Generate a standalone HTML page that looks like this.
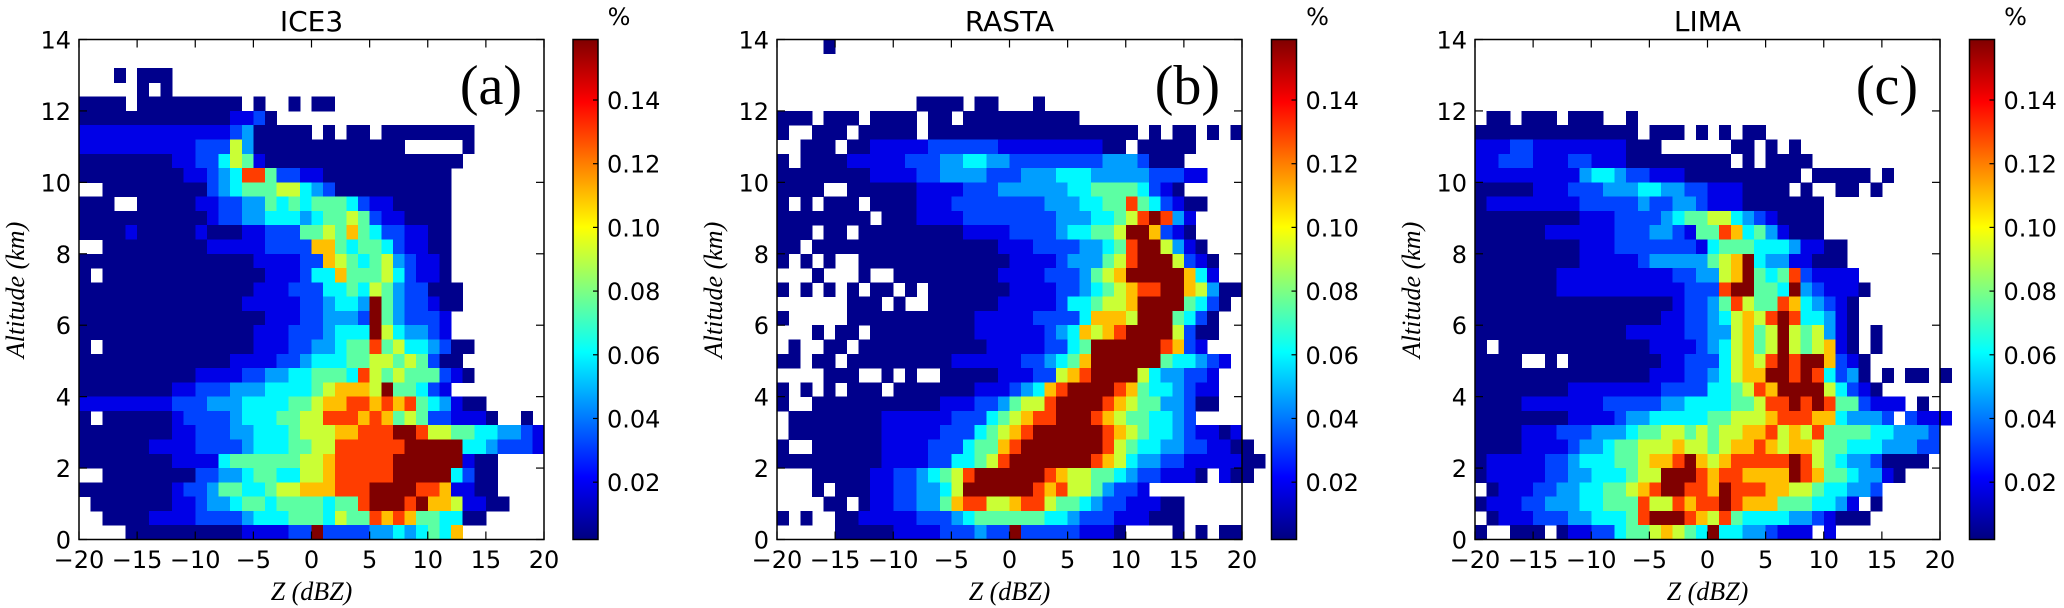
<!DOCTYPE html>
<html><head><meta charset="utf-8">
<style>
html,body{margin:0;padding:0;background:#fff;}
svg{display:block;}
.tk{font-family:"DejaVu Sans","Liberation Sans",sans-serif;font-size:24px;fill:#000;}
.tt{font-family:"DejaVu Sans","Liberation Sans",sans-serif;font-size:28px;fill:#000;}
.al{font-family:"Liberation Serif","DejaVu Serif",serif;font-style:italic;font-size:26px;fill:#000;}
.pl{font-family:"Liberation Serif","DejaVu Serif",serif;font-size:56px;fill:#000;}
</style></head>
<body>
<svg id="fig" width="2064" height="608" viewBox="0 0 2064 608" xmlns="http://www.w3.org/2000/svg">
<defs id="defs"></defs>
</svg>
<script>
// ---------- data ----------
const panelTitles = ["ICE3", "RASTA", "LIMA"];
const panelLetters = ["(a)", "(b)", "(c)"];
const xTicks = [-20, -15, -10, -5, 0, 5, 10, 15, 20];
const xTickLabels = ["\u221220", "\u221215", "\u221210", "\u22125", "0", "5", "10", "15", "20"];
const yTicks = [0, 2, 4, 6, 8, 10, 12, 14];
const cbTicks = [0.02, 0.04, 0.06, 0.08, 0.10, 0.12, 0.14];
const cbTickLabels = ["0.02", "0.04", "0.06", "0.08", "0.10", "0.12", "0.14"];
// frequency levels (%) encoded by digits 0-9 in grids; '.' = no data
const levelValues = [0.004, 0.018, 0.032, 0.046, 0.060, 0.075, 0.092, 0.110, 0.130, 0.160];
// rows from top (13.6-14 km) to bottom (0-0.4 km); columns -20..19 dBZ
const gridICE3 = [
"", "", "...0.000", ".....0.0",
"0000.000000000.0..0.00",
"00000000000001120",
"11111111111112300000.0.00.00000000",
"1111111111222630000000000000.....0",
"000000001122465100000000000000000",
"00000000011234885221100000000000",
"..000000000234555664320000000000",
"000..000001122335454555421100000",
"00000000000122334443455652110000",
"00001000001000112225565754221100",
"..000000000111112222775455421100",
"00000000000000011112276545632110",
"0.000000000000001112447555642110",
"000000000000000111222445465322000",
"000000000000001111122344395322100",
"00000000000000001112233329532221",
"00000000000000011122234449643321",
"0.00000000000001112233455856443200",
"000000000000011112234445566565200",
"0000000000111122334455548656555210",
"00000000112223334444567776955421",
"11111111222333444455677887878543100",
"0.0000001222234445566888787565221110..0",
"0000000011222334445666778889986655443321",
"0000001111222234445566888888999994432221",
"000000001111455555566788888999999100",
"..0000000022334554466788888999994200",
"000000001223554456677788899998871100",
".000000011233455455554558999897761100",
"..000011112222344455546558787554400",
"....00000000001111229222233434547"
];
const gridRASTA = [
"....0", "", "", "",
"............0000.00...0",
"000.000.0000.00.0000000000",
"0..000.00000.000000000000000000.0.00.0.0",
"..000.001111122222211111111100.00000",
"0.000011111222334433222222223332000",
"0000000011112233332223334443333322211",
"0000..00000011112223333334455554210",
"0.0.000.00001112222222233344558542100",
"00000000.000111122222222333445689831",
"000.00.00000000011112222344556997210",
"00.0000000000000000111222233458996310",
"0.0.0..0000000000000111123335689996210",
"...0...0..0000000001111222356799999741",
"0.0.0.0.00.0.000000011112234567889976300",
"......000.0..00000011111244566799995420",
"0.....00000000000111112222477769995420",
"...0.00.000000000111111234767899996200",
".0..00.000000000001111122459999998721",
"00.00.000000000111111223457999999544321",
"....000..0.0..000001112267899996433221",
"0.0.0.000.0000000111234789999875443211",
"0..00000000000111223566899998765533200",
".00000000111111222456788999876554432",
".000000001111122245678999999876544321101",
"0..00000011112224557899999998654433221100",
"000000000111122445689999999876433221111100",
"...0000011223456899999987665543221110.100",
"...0.000112233469999998786653221",
"....00.0112233578866788655432211100",
"0.0..001111122234555555443222111000",
".....0000011112223229222221110....0.0.00"
];
const gridLIMA = [
"", "", "", "", "",
".00.000.000..0",
"00000000000000.000.0.0.00",
"1112211111111000......00.0.0",
"1122211122111000000000.0.0000",
"1111111113443221110000000000.00000.0",
"000001112223334433221110000.0..00.0",
"011111111222223223321110000000",
"000000000111222234556643210000",
"000000111111222332155874531000",
"00000000011122222221455544431100",
"00000000011111233333567943311000",
"000000011111111112233679545821111",
"0000000111111111112228995549321110",
"000000000000000001223586558743210",
"000000000000000011223467689844310",
"000000000000011111223367569656310.0",
"0.0000000000000111123467569656710.0",
"0000..0.00000000112224676898997210",
"0000000000000001112234677998984230.0.00.0",
"00000000111111112222445687999964210",
"0000111111122222334444556889898552111.0",
"000000001111233444445566678887743332 2111",
"0000111222333455665656677867685555443332",
"0000111123345566676656778767765544433322",
"011111223444556778976788888986543320000",
"0111112233444566999878877779875543310",
".0111223344556789988798887766544332",
"011122333445558668788987775554431.0",
".011122233444589998768544443321000",
"0..000.0112245567654944332111 1"
];
const grids = [gridICE3, gridRASTA, gridLIMA];

// ---------- layout ----------
const plotLefts = [79, 777, 1475];
const plotTop = 39.5, plotW = 465, plotH = 500;
const cbLefts = [573, 1271.5, 1969.5];
const cbW = 25;
const zMin = -20, zMax = 20, hMin = 0, hMax = 14, dz = 1, dh = 0.4;
const vMin = 0.002, vMax = 0.159;

const NS = "http://www.w3.org/2000/svg";
const svg = document.getElementById("fig");
const defs = document.getElementById("defs");
function mk(tag, attrs, parent) {
  const e = document.createElementNS(NS, tag);
  for (const k in attrs) e.setAttribute(k, attrs[k]);
  (parent || svg).appendChild(e);
  return e;
}
function jet(t) {
  t = Math.max(0, Math.min(1, t));
  const c = v => Math.round(255 * Math.max(0, Math.min(1, v)));
  const r = c(1.5 - Math.abs(4 * t - 3)), g = c(1.5 - Math.abs(4 * t - 2)), b = c(1.5 - Math.abs(4 * t - 1));
  return "rgb(" + r + "," + g + "," + b + ")";
}
function colorFor(v) { return jet((v - vMin) / (vMax - vMin)); }

const grad = mk("linearGradient", {id: "jetgrad", x1: "0", y1: "1", x2: "0", y2: "0"}, defs);
for (let i = 0; i <= 40; i++) {
  mk("stop", {offset: (i / 40).toFixed(3), "stop-color": jet(i / 40)}, grad);
}

for (let p = 0; p < 3; p++) {
  const L = plotLefts[p];
  const xS = z => L + (z - zMin) / (zMax - zMin) * plotW;
  const yS = h => plotTop + (hMax - h) / (hMax - hMin) * plotH;
  const g = mk("g", {});
  
  

  const hm = mk("g", {"shape-rendering": "crispEdges"}, g);
  
  
  const grid = grids[p];
  for (let r = 0; r < grid.length; r++) {
    const row = grid[r];
    const hTop = hMax - r * dh;
    for (let c = 0; c < row.length; c++) {
      const ch = row[c];
      if (ch < "0" || ch > "9") continue;
      const z0 = zMin + c * dz;
      const v = levelValues[+ch];
      const x0 = xS(z0), x1 = xS(z0 + dz), y0 = yS(hTop), y1 = yS(hTop - dh);
      const cell = mk("rect", {x: x0.toFixed(2), y: y0.toFixed(2), width: (x1 - x0 + 0.4).toFixed(2), height: (y1 - y0 + 0.4).toFixed(2), fill: colorFor(v)}, hm);
      
      
    }
  }

  const fr = mk("rect", {x: L, y: plotTop, width: plotW, height: plotH, fill: "none", stroke: "#000", "stroke-width": 1.5}, g);
  
  

  for (let i = 0; i < xTicks.length; i++) {
    const x = xS(xTicks[i]);
    mk("line", {x1: x, y1: plotTop + plotH, x2: x, y2: plotTop + plotH - 8, stroke: "#000", "stroke-width": 1.2}, g);
    mk("line", {x1: x, y1: plotTop, x2: x, y2: plotTop + 8, stroke: "#000", "stroke-width": 1.2}, g);
    const t = mk("text", {x: x, y: 568, "text-anchor": "middle", class: "tk"}, g);
    t.textContent = xTickLabels[i];
    
    
  }
  for (let i = 0; i < yTicks.length; i++) {
    const y = yS(yTicks[i]);
    mk("line", {x1: L, y1: y, x2: L + 8, y2: y, stroke: "#000", "stroke-width": 1.2}, g);
    mk("line", {x1: L + plotW, y1: y, x2: L + plotW - 8, y2: y, stroke: "#000", "stroke-width": 1.2}, g);
    const t = mk("text", {x: L - 8, y: y + 9, "text-anchor": "end", class: "tk"}, g);
    t.textContent = String(yTicks[i]);
    
    
  }
  const ti = mk("text", {x: L + plotW / 2, y: 31, "text-anchor": "middle", class: "tt"}, g);
  ti.textContent = panelTitles[p];
  
  
  const le = mk("text", {x: L + plotW - 22, y: 104, "text-anchor": "end", class: "pl"}, g);
  le.textContent = panelLetters[p];
  
  
  const xl = mk("text", {x: L + plotW / 2, y: 600, "text-anchor": "middle", class: "al"}, g);
  xl.textContent = "Z (dBZ)";
  
  
  const yl = mk("text", {x: 0, y: 0, "text-anchor": "middle", class: "al", transform: "translate(" + (L - 55) + ",290) rotate(-90)"}, g);
  yl.textContent = "Altitude (km)";
  
  

  const cx = cbLefts[p];
  const cbS = v => plotTop + plotH - (v - vMin) / (vMax - vMin) * plotH;
  const cb = mk("rect", {x: cx, y: plotTop, width: cbW, height: plotH, fill: "url(#jetgrad)", stroke: "#000", "stroke-width": 1.5}, g);
  
  
  for (let i = 0; i < cbTicks.length; i++) {
    const y = cbS(cbTicks[i]);
    mk("line", {x1: cx + cbW, y1: y, x2: cx + cbW - 5, y2: y, stroke: "#000", "stroke-width": 1.2}, g);
    const t = mk("text", {x: cx + cbW + 9, y: y + 9, class: "tk"}, g);
    t.textContent = cbTickLabels[i];
    
    
  }
  const pc = mk("text", {x: cx + cbW + 21, y: 25, "text-anchor": "middle", class: "tk"}, g);
  pc.textContent = "%";
  
  
}
</script>
</body></html>
